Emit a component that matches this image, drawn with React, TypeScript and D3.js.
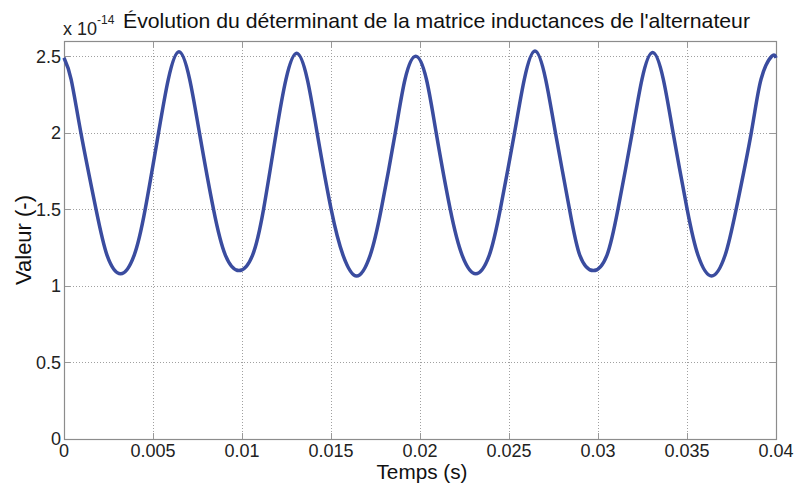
import * as React from 'react';
import * as d3 from 'd3';

// values (units of 1e-14)
const timeValues = [
  0, 0.0004, 0.00095, 0.0018, 0.00242, 0.00318,
  0.00394, 0.00456, 0.00531, 0.00586, 0.00646, 0.00706, 0.00761, 0.0084, 0.00907, 0.00983,
  0.01059, 0.01121, 0.01192, 0.01247, 0.01307, 0.01367, 0.01422, 0.01501, 0.01568, 0.01644,
  0.0172, 0.01782, 0.01861, 0.01916, 0.01976, 0.02036, 0.02091, 0.0217, 0.02237, 0.02313,
  0.02389, 0.02451, 0.02531, 0.02586, 0.02646, 0.02706, 0.02761, 0.0284, 0.02898, 0.02974,
  0.0305, 0.03112, 0.03192, 0.03247, 0.03307, 0.03367, 0.03422, 0.03501, 0.03562, 0.03638,
  0.03714, 0.03776, 0.03861, 0.03916, 0.03976, 0.04,
];
const detValues = [
  2.49, 2.35, 2.0, 1.5, 1.2, 1.08,
  1.2, 1.5, 2.0, 2.35, 2.53, 2.35, 2.0, 1.5, 1.2, 1.10,
  1.2, 1.5, 2.0, 2.35, 2.52, 2.35, 2.0, 1.5, 1.2, 1.065,
  1.2, 1.5, 2.0, 2.35, 2.50, 2.35, 2.0, 1.5, 1.2, 1.08,
  1.2, 1.5, 2.0, 2.35, 2.535, 2.35, 2.0, 1.5, 1.2, 1.10,
  1.2, 1.5, 2.0, 2.35, 2.525, 2.35, 2.0, 1.5, 1.2, 1.065,
  1.2, 1.5, 2.0, 2.35, 2.50, 2.49,
];
const xTicks = [0, 0.005, 0.01, 0.015, 0.02, 0.025, 0.03, 0.035, 0.04];
const xTickLabels = ['0', '0.005', '0.01', '0.015', '0.02', '0.025', '0.03', '0.035', '0.04'];
const yTicks = [0, 0.5, 1, 1.5, 2, 2.5];
const yTickLabels = ['0', '0.5', '1', '1.5', '2', '2.5'];

const width = 795;
const height = 486;
const font = '"Liberation Sans", Arial, Helvetica, sans-serif';

const App = () => {
  const svgRef = React.useRef(null);

  React.useEffect(() => {
    const svg = d3.select(svgRef.current);
    svg.selectAll('*').remove();

    const left = 64, right = 776, top = 41, bottom = 439;
    const x = d3.scaleLinear().domain([0, 0.04]).range([left, right]);
    const y = d3.scaleLinear().domain([0, 2.6]).range([bottom, top]);

    svg.append('rect').attr('width', width).attr('height', height).attr('fill', '#fff');

    // grid
    const grid = svg.append('g').attr('stroke', '#a0a0a0').attr('stroke-width', 1)
      .attr('stroke-dasharray', '1,2');
    xTicks.slice(1, -1).forEach(t => {
      grid.append('line').attr('x1', x(t) + 0.5).attr('x2', x(t) + 0.5)
        .attr('y1', top).attr('y2', bottom);
    });
    yTicks.slice(1).forEach(v => {
      grid.append('line').attr('y1', Math.round(y(v)) + 0.5).attr('y2', Math.round(y(v)) + 0.5)
        .attr('x1', left).attr('x2', right);
    });

    // inward ticks
    const ticks = svg.append('g').attr('stroke', '#999').attr('stroke-width', 1);
    xTicks.slice(1, -1).forEach(t => {
      ticks.append('line').attr('x1', x(t) + 0.5).attr('x2', x(t) + 0.5).attr('y1', bottom).attr('y2', bottom - 6);
      ticks.append('line').attr('x1', x(t) + 0.5).attr('x2', x(t) + 0.5).attr('y1', top).attr('y2', top + 6);
    });
    yTicks.slice(1).forEach(v => {
      const yy = Math.round(y(v)) + 0.5;
      ticks.append('line').attr('x1', left).attr('x2', left + 6).attr('y1', yy).attr('y2', yy);
      ticks.append('line').attr('x1', right).attr('x2', right - 6).attr('y1', yy).attr('y2', yy);
    });

    // box
    svg.append('rect').attr('x', left + 0.5).attr('y', top + 0.5)
      .attr('width', right - left).attr('height', bottom - top)
      .attr('fill', 'none').attr('stroke', '#8c8c8c').attr('stroke-width', 1.2);

    // curve
    const pts = timeValues.map((t, i) => [t, detValues[i]] as [number, number]);
    const line = d3.line<[number, number]>()
      .x(d => x(d[0]))
      .y(d => y(d[1]))
      .curve(d3.curveNatural);
    svg.append('path').datum(pts).attr('d', line)
      .attr('fill', 'none').attr('stroke', '#3a4c9f').attr('stroke-width', 3.5)
      .attr('stroke-linejoin', 'round');

    // tick labels
    svg.append('g').selectAll('text').data(xTicks).enter().append('text')
      .attr('x', d => x(d)).attr('y', 457)
      .attr('text-anchor', 'middle').attr('font-family', font).attr('font-size', 18)
      .attr('fill', '#222').text((d, i) => xTickLabels[i]);
    svg.append('g').selectAll('text').data(yTicks).enter().append('text')
      .attr('x', left - 3).attr('y', d => y(d)).attr('dy', '0.35em')
      .attr('text-anchor', 'end').attr('font-family', font).attr('font-size', 18)
      .attr('fill', '#222').text((d, i) => yTickLabels[i]);

    // exponent
    const exp = svg.append('text').attr('x', 63).attr('y', 35)
      .attr('font-family', font).attr('font-size', 18).attr('fill', '#222');
    exp.append('tspan').text('x 10');
    exp.append('tspan').attr('dy', -11).attr('font-size', 12).text('-14');

    // title
    svg.append('text').attr('x', 123).attr('y', 28)
      .attr('font-family', font).attr('font-size', 21).attr('fill', '#111')
      .attr('textLength', 627).attr('lengthAdjust', 'spacingAndGlyphs')
      .text("Évolution du déterminant de la matrice inductances de l'alternateur");

    // axis labels
    svg.append('text').attr('x', 422).attr('y', 479)
      .attr('text-anchor', 'middle').attr('font-family', font).attr('font-size', 20)
      .attr('textLength', 91).attr('lengthAdjust', 'spacingAndGlyphs')
      .attr('fill', '#111').text('Temps (s)');
    svg.append('text')
      .attr('transform', `translate(31, ${(top + bottom) / 2}) rotate(-90)`)
      .attr('text-anchor', 'middle').attr('font-family', font).attr('font-size', 22)
      .attr('fill', '#111').text('Valeur (-)');
  }, []);

  return (
    <svg ref={svgRef} width={width} height={height}
      style={{ position: 'absolute', left: 0, top: 0 }}></svg>
  );
};

export default App;
